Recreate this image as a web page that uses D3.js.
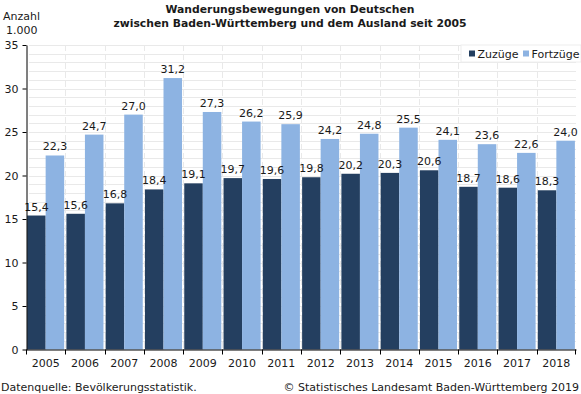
<!DOCTYPE html>
<html><head><meta charset="utf-8">
<script src="https://cdn.jsdelivr.net/npm/d3@7"></script>
<style>body{margin:0;background:#fff}svg{display:block;font-family:"DejaVu Sans",Verdana,sans-serif}</style>
</head><body>
<script>
const years = ["2005","2006","2007","2008","2009","2010","2011","2012","2013","2014","2015","2016","2017","2018"];
const zuzuege = [15.4,15.6,16.8,18.4,19.1,19.7,19.6,19.8,20.2,20.3,20.6,18.7,18.6,18.3];
const fortzuege = [22.3,24.7,27.0,31.2,27.3,26.2,25.9,24.2,24.8,25.5,24.1,23.6,22.6,24.0];
const seriesNames = ["Zuzüge","Fortzüge"];
const yTicks = [0,5,10,15,20,25,30,35];
const colors = ["#243f60","#8db3e2"];

const W=581,H=394;
const svg=d3.select("body").append("svg").attr("width",W).attr("height",H);
const x0=26, x1=576, yTop=45, yBot=349.5;
const x=d3.scaleBand().domain(years).range([x0,x1]).paddingInner(0).paddingOuter(0);
const y=d3.scaleLinear().domain([0,35]).range([yBot,yTop]);
const inner=d3.scaleBand().domain(seriesNames).range([0,x.bandwidth()]).paddingOuter(0.06);

// gridlines
const g=svg.append("g");
g.selectAll("line.h").data(d3.range(1,36)).join("line")
 .attr("x1",x0+3).attr("x2",x1).attr("y1",d=>Math.round(y(d))+0.5).attr("y2",d=>Math.round(y(d))+0.5)
 .attr("stroke","#e9e9e9").attr("stroke-width",1);
g.selectAll("line.v").data(years.slice(1)).join("line")
 .attr("x1",d=>Math.round(x(d))+0.5).attr("x2",d=>Math.round(x(d))+0.5).attr("y1",yTop).attr("y2",yBot)
 .attr("stroke","#e9e9e9").attr("stroke-dasharray","6,3");

// bars
const data=years.map((yr,i)=>({yr,vals:[zuzuege[i],fortzuege[i]]}));
const grp=svg.append("g").selectAll("g").data(data).join("g").attr("transform",d=>`translate(${x(d.yr)},0)`);
grp.selectAll("rect").data(d=>d.vals.map((v,j)=>({v,s:seriesNames[j],j}))).join("rect")
 .attr("x",d=>inner(d.s)).attr("width",inner.bandwidth())
 .attr("y",d=>y(d.v)).attr("height",d=>yBot-y(d.v)).attr("fill",d=>colors[d.j]);
grp.selectAll("text").data(d=>d.vals.map((v,j)=>({v,s:seriesNames[j],j}))).join("text")
 .attr("x",d=>inner(d.s)+inner.bandwidth()/2).attr("y",d=>y(d.v)-5)
 .attr("text-anchor","middle").attr("font-size",11).attr("fill","#1a1a1a")
 .text(d=>d3.format(".1f")(d.v).replace(".",","));

// axes
const ya=svg.append("g").attr("transform",`translate(${x0+0.5},0)`)
 .call(d3.axisLeft(y).tickValues(yTicks).tickSize(4).tickSizeOuter(0).tickPadding(4));
ya.select(".domain").attr("stroke","#000");
ya.selectAll("text").attr("font-size",11).attr("fill","#1a1a1a").attr("font-family","DejaVu Sans");
const xa=svg.append("g").attr("transform",`translate(0,${yBot})`)
 .call(d3.axisBottom(x).tickSize(0).tickPadding(10));
xa.select(".domain").attr("stroke","#000");
xa.selectAll("text").attr("font-size",11).attr("fill","#1a1a1a").attr("font-family","DejaVu Sans");
svg.append("g").selectAll("line").data(years.concat(["end"])).join("line")
 .attr("x1",d=>d==="end"?x1-0.5:Math.round(x(d))+0.5).attr("x2",d=>d==="end"?x1-0.5:Math.round(x(d))+0.5)
 .attr("y1",yBot).attr("y2",yBot+5).attr("stroke","#000");

// legend
const lg=svg.append("g");
lg.append("rect").attr("x",461).attr("y",45).attr("width",120).attr("height",17).attr("fill","#fff").attr("stroke","#eeeeee");
const li=[{n:seriesNames[0],x:469,c:colors[0]},{n:seriesNames[1],x:523,c:colors[1]}];
li.forEach(d=>{
 lg.append("rect").attr("x",d.x).attr("y",50.5).attr("width",6).attr("height",6).attr("fill",d.c);
 lg.append("text").attr("x",d.x+8.5).attr("y",57.5).attr("font-size",11).attr("fill","#1a1a1a").text(d.n);
});

// titles
svg.append("text").attr("x",290).attr("y",13).attr("text-anchor","middle").attr("font-size",10.8).attr("font-weight","bold").attr("fill","#1a1a1a").text("Wanderungsbewegungen von Deutschen");
svg.append("text").attr("x",290).attr("y",27).attr("text-anchor","middle").attr("font-size",10.8).attr("font-weight","bold").attr("fill","#1a1a1a").text("zwischen Baden-Württemberg und dem Ausland seit 2005");
svg.append("text").attr("x",3).attr("y",20).attr("font-size",11).attr("fill","#1a1a1a").text("Anzahl");
svg.append("text").attr("x",6).attr("y",34).attr("font-size",11).attr("fill","#1a1a1a").text("1.000");
svg.append("text").attr("x",1).attr("y",391).attr("font-size",11).attr("fill","#1a1a1a").text("Datenquelle: Bevölkerungsstatistik.");
svg.append("text").attr("x",579).attr("y",391).attr("text-anchor","end").attr("font-size",11).attr("fill","#1a1a1a").text("© Statistisches Landesamt Baden-Württemberg 2019");
</script>
</body></html>
